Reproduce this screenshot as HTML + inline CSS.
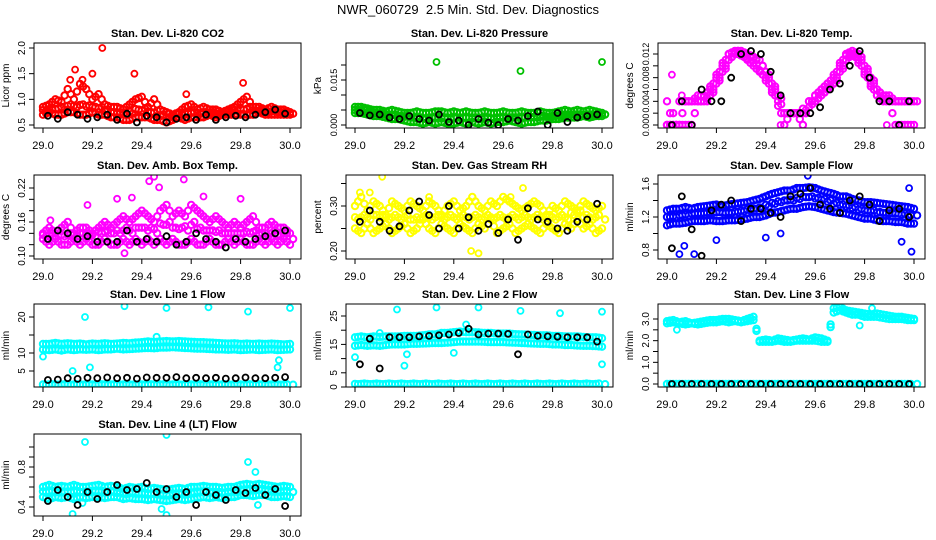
<!DOCTYPE html>
<html><head><meta charset="utf-8">
<style>
html,body{margin:0;padding:0;background:#fff;}
svg{display:block;font-family:"Liberation Sans",sans-serif;}
</style></head>
<body>
<svg id="chart" width="936" height="540" viewBox="0 0 936 540" xmlns="http://www.w3.org/2000/svg">
<rect width="936" height="540" fill="#fff"/>
<text x="468" y="14" text-anchor="middle" font-size="13" style="white-space:pre">NWR_060729  2.5 Min. Std. Dev. Diagnostics</text>
</svg>
<script>
// ---- shared times ----
const times = [29.000,29.025,29.050,29.075,29.100,29.125,29.150,29.175,29.200,29.225,29.250,29.275,29.300,29.325,29.350,29.375,29.400,29.425,29.450,29.475,29.500,29.525,29.550,29.575,29.600,29.625,29.650,29.675,29.700,29.725,29.750,29.775,29.800,29.825,29.850,29.875,29.900,29.925,29.950,29.975,30.000];
const blackTimes = [29.02,29.06,29.10,29.14,29.18,29.22,29.26,29.30,29.34,29.38,29.42,29.46,29.50,29.54,29.58,29.62,29.66,29.70,29.74,29.78,29.82,29.86,29.90,29.94,29.98];
const xTicks = [29.0,29.2,29.4,29.6,29.8,30.0];
const xTickLabels = ["29.0","29.2","29.4","29.6","29.8","30.0"];

// ---- CO2 ----
const co2Upper = [0.85,0.9,1.0,0.95,1.2,1.0,1.3,1.2,1.0,1.1,0.9,0.85,0.85,0.8,0.9,1.0,1.05,0.85,1.0,0.8,0.75,0.7,0.75,0.85,0.9,0.8,0.85,0.8,0.8,0.75,0.8,0.85,0.95,1.05,0.85,0.85,0.8,0.85,0.8,0.8,0.75];
const co2Lower = [0.7,0.75,0.7,0.7,0.75,0.75,0.7,0.7,0.75,0.7,0.7,0.65,0.65,0.6,0.6,0.65,0.65,0.65,0.6,0.6,0.55,0.6,0.65,0.6,0.65,0.65,0.65,0.7,0.65,0.7,0.7,0.7,0.7,0.7,0.7,0.75,0.7,0.7,0.7,0.7,0.7];
const co2Mid = [0.78,0.8,0.82,0.8,0.9,0.85,0.9,0.88,0.85,0.85,0.8,0.75,0.75,0.7,0.72,0.8,0.82,0.75,0.78,0.7,0.65,0.65,0.7,0.72,0.75,0.72,0.75,0.75,0.72,0.72,0.75,0.78,0.8,0.85,0.78,0.8,0.75,0.78,0.75,0.75,0.72];
const co2OutT = [29.24,29.13,29.2,29.37,29.81,29.58,29.11,29.16];
const co2OutV = [2.0,1.58,1.5,1.5,1.32,1.1,1.38,1.38];
const co2Black = [0.68,0.62,0.75,0.7,0.62,0.65,0.7,0.6,0.72,0.55,0.68,0.65,0.55,0.62,0.65,0.6,0.7,0.6,0.65,0.68,0.65,0.7,0.75,0.8,0.72];
const co2Ticks = [0.5,1.0,1.5,2.0];
const co2TickLabels = ["0.5","1.0","1.5","2.0"];

// ---- Pressure ----
const presUpper = [0.006,0.006,0.0055,0.005,0.005,0.0045,0.005,0.0045,0.004,0.004,0.0045,0.004,0.004,0.0045,0.0045,0.004,0.0045,0.004,0.0045,0.004,0.004,0.0045,0.004,0.004,0.0045,0.004,0.004,0.0045,0.004,0.004,0.0045,0.004,0.004,0.0045,0.005,0.0045,0.005,0.0045,0.005,0.0045,0.004];
const presLower = [0.004,0.004,0.0035,0.003,0.003,0.0025,0.002,0.002,0.0015,0.001,0.001,0.0005,0.001,0.0005,0.001,0.0005,0.0005,0.001,0.0005,0.001,0.0005,0.001,0.0005,0.001,0.001,0.0015,0.001,0.0005,0.001,0.001,0.0015,0.0015,0.002,0.002,0.0025,0.0025,0.0025,0.003,0.0025,0.003,0.003];
const presMid = [0.005,0.005,0.0045,0.004,0.004,0.0035,0.0035,0.003,0.003,0.0025,0.0025,0.002,0.0025,0.0025,0.0025,0.002,0.0025,0.0025,0.0025,0.0025,0.002,0.0025,0.002,0.0025,0.0025,0.0025,0.0025,0.0025,0.0025,0.0025,0.003,0.0025,0.003,0.003,0.0035,0.0035,0.0035,0.0035,0.0035,0.0035,0.0035];
const presOutT = [29.33,29.67,30.0];
const presOutV = [0.021,0.018,0.021];
const presBlack = [0.004,0.0032,0.0035,0.0025,0.002,0.003,0.002,0.0015,0.0035,0.001,0.0015,0,0.002,0.0008,0,0.002,0.0015,0.003,0.0045,0.0,0.004,0.001,0.0025,0.003,0.0035];
const presTicks = [0,0.005,0.010,0.015,0.020];
const presTickLabels = ["0.000","","","0.015",""];

// ---- Li-820 Temp ----
const tempUpper = [0.000,0.0,0.0,0.004,0.004,0.005,0.005,0.006,0.008,0.010,0.012,0.0125,0.0125,0.012,0.0115,0.011,0.009,0.007,0.005,0.002,0.002,0.002,0.002,0.003,0.005,0.006,0.007,0.008,0.010,0.012,0.0125,0.012,0.010,0.008,0.006,0.005,0.005,0.004,0.004,0.004,0.004];
const tempLower = [0.004,0.0,0.0,0.0,0.0,0.004,0.004,0.005,0.007,0.009,0.011,0.012,0.012,0.011,0.010,0.009,0.008,0.006,0.004,0.0,0.002,0.002,0.0,0.004,0.004,0.005,0.006,0.007,0.009,0.011,0.012,0.011,0.009,0.007,0.005,0.004,0.004,0.0,0.0,0.0,0.0];
const tempMid = [0.0,0.0,0.004,0.004,0.004,0.004,0.004,0.0055,0.0075,0.0095,0.0115,0.0125,0.012,0.0115,0.011,0.010,0.0085,0.0065,0.0045,0.002,0.002,0.002,0.002,0.0035,0.0045,0.0055,0.0065,0.0075,0.0095,0.0115,0.012,0.0115,0.0095,0.0075,0.0055,0.0045,0.004,0.004,0.004,0.004,0.004];
const tempOutT = [29.02,29.06,29.46,29.89];
const tempOutV = [0.0085,0.005,0.0,0.0];
const tempBlack = [0,0.004,0,0.006,0.004,0.004,0.008,0.012,0.0125,0.012,0.009,0.005,0.002,0.002,0.002,0.003,0.006,0.007,0.010,0.0125,0.008,0.004,0.004,0,0.004];
const tempTicks = [0,0.002,0.004,0.006,0.008,0.010,0.012];
const tempTickLabels = ["0.000","","0.004","","0.008","","0.012"];

// ---- Amb Box Temp ----
const ambUpper = [0.14,0.15,0.14,0.15,0.16,0.14,0.15,0.15,0.14,0.15,0.16,0.15,0.16,0.17,0.16,0.17,0.18,0.17,0.16,0.18,0.19,0.17,0.18,0.17,0.19,0.18,0.17,0.16,0.17,0.16,0.15,0.16,0.15,0.16,0.17,0.15,0.15,0.16,0.15,0.15,0.14];
const ambLower = [0.13,0.12,0.13,0.12,0.12,0.13,0.12,0.13,0.12,0.12,0.13,0.12,0.12,0.13,0.12,0.13,0.12,0.13,0.12,0.13,0.12,0.13,0.12,0.12,0.13,0.12,0.12,0.13,0.12,0.12,0.13,0.12,0.13,0.12,0.12,0.13,0.12,0.13,0.12,0.13,0.12];
const ambMid = [0.135,0.14,0.135,0.135,0.14,0.135,0.14,0.14,0.135,0.14,0.145,0.14,0.14,0.15,0.14,0.15,0.15,0.15,0.14,0.155,0.16,0.15,0.15,0.145,0.16,0.15,0.145,0.145,0.145,0.14,0.14,0.14,0.14,0.14,0.145,0.14,0.135,0.145,0.135,0.14,0.13];
const ambOutT = [29.45,29.43,29.57,29.47,29.65,29.18,29.8,29.3,29.36,29.03,29.33];
const ambOutV = [0.24,0.232,0.235,0.221,0.205,0.19,0.201,0.201,0.203,0.163,0.105];
const ambBlack = [0.13,0.145,0.14,0.13,0.135,0.125,0.125,0.125,0.145,0.125,0.13,0.125,0.135,0.12,0.125,0.14,0.13,0.125,0.115,0.13,0.125,0.13,0.135,0.14,0.145];
const ambTicks = [0.10,0.12,0.14,0.16,0.18,0.20,0.22];
const ambTickLabels = ["0.10","","","0.16","","","0.22"];

// ---- Gas Stream RH ----
const rhUpper = [0.30,0.32,0.29,0.31,0.30,0.28,0.31,0.30,0.29,0.31,0.30,0.29,0.31,0.30,0.28,0.30,0.31,0.29,0.30,0.32,0.30,0.29,0.31,0.30,0.32,0.31,0.30,0.29,0.30,0.31,0.30,0.28,0.30,0.29,0.31,0.30,0.29,0.31,0.30,0.29,0.30];
const rhLower = [0.25,0.24,0.26,0.24,0.25,0.26,0.24,0.25,0.26,0.24,0.25,0.27,0.25,0.24,0.26,0.25,0.24,0.26,0.25,0.24,0.26,0.25,0.27,0.24,0.25,0.26,0.24,0.25,0.26,0.25,0.24,0.26,0.25,0.24,0.26,0.25,0.27,0.25,0.26,0.24,0.25];
const rhMid = [0.27,0.28,0.27,0.28,0.28,0.27,0.28,0.27,0.28,0.27,0.27,0.28,0.27,0.28,0.27,0.28,0.27,0.28,0.27,0.28,0.27,0.28,0.27,0.28,0.27,0.28,0.27,0.28,0.27,0.28,0.27,0.28,0.27,0.28,0.27,0.28,0.29,0.28,0.27,0.28,0.27];
const rhOutT = [29.11,29.47,29.5,29.68,29.02,29.06,29.3,29.63];
const rhOutV = [0.365,0.20,0.195,0.34,0.33,0.33,0.32,0.32];
const rhBlack = [0.265,0.29,0.265,0.245,0.255,0.29,0.31,0.28,0.25,0.3,0.25,0.275,0.245,0.26,0.24,0.27,0.225,0.295,0.27,0.265,0.25,0.245,0.265,0.27,0.305];
const rhTicks = [0.20,0.25,0.30,0.35];
const rhTickLabels = ["0.20","","0.30",""];

// ---- Sample Flow ----
const sfUpper = [1.28,1.3,1.3,1.32,1.3,1.32,1.33,1.34,1.35,1.33,1.35,1.36,1.37,1.38,1.4,1.42,1.45,1.48,1.5,1.52,1.52,1.55,1.55,1.56,1.55,1.52,1.5,1.48,1.45,1.45,1.42,1.4,1.38,1.38,1.37,1.36,1.35,1.34,1.33,1.32,1.3];
const sfLower = [1.1,1.12,1.12,1.13,1.15,1.15,1.15,1.16,1.15,1.15,1.16,1.16,1.17,1.18,1.2,1.2,1.22,1.25,1.26,1.28,1.3,1.3,1.32,1.33,1.32,1.3,1.28,1.26,1.25,1.24,1.22,1.2,1.18,1.18,1.16,1.15,1.15,1.14,1.14,1.12,1.12];
const sfMid = [1.2,1.2,1.22,1.22,1.24,1.24,1.25,1.25,1.26,1.25,1.25,1.26,1.27,1.28,1.3,1.3,1.33,1.36,1.38,1.4,1.4,1.42,1.44,1.45,1.43,1.42,1.4,1.37,1.35,1.34,1.32,1.3,1.28,1.28,1.26,1.25,1.25,1.24,1.24,1.22,1.22];
const sfOutT = [29.57,29.05,29.07,29.4,29.46,29.95,29.99,29.98,29.11,29.2];
const sfOutV = [1.7,0.75,0.85,0.95,1.0,0.9,0.78,1.55,0.75,0.92];
const sfBlack = [0.82,1.45,1.05,0.73,1.28,1.35,1.4,1.15,1.3,1.3,1.25,1.2,1.45,1.48,1.55,1.35,1.3,1.25,1.4,1.45,1.35,1.15,1.28,1.3,1.2];
const sfTicks = [0.8,1.0,1.2,1.4,1.6];
const sfTickLabels = ["0.8","","1.2","","1.6"];

// ---- Line 1 ----
const l1Upper = [12.5,12.5,12.8,12.5,12.7,12.5,12.6,12.4,12.6,12.5,12.7,12.5,12.6,12.8,12.7,12.9,13,13.2,13,13.2,13.3,13.2,13.3,13.2,13.1,13,13,12.9,12.8,12.7,12.6,12.7,12.5,12.6,12.5,12.6,12.5,12.6,12.5,12.4,12.5];
const l1Lower = [11,10.8,11,10.7,11,10.8,11,10.9,11,10.8,11,11,11.2,11,11.1,11.2,11.3,11.4,11.3,11.5,11.5,11.6,11.5,11.4,11.3,11.2,11.2,11.1,11,11,10.9,11,10.8,10.9,11,10.8,10.9,11,10.8,10.9,11];
const l1Mid = [1.2,1.3,1.2,1.3,1.2,1.3,1.2,1.3,1.2,1.3,1.2,1.3,1.2,1.3,1.2,1.3,1.2,1.3,1.2,1.3,1.2,1.3,1.2,1.3,1.2,1.3,1.2,1.3,1.2,1.3,1.2,1.3,1.2,1.3,1.2,1.3,1.2,1.3,1.2,1.3,1.2];
const l1OutT = [29.17,29.33,29.5,29.67,29.83,30.0,29.12,29.19,29.95,29.955,29.0,29.46];
const l1OutV = [20,23,22.5,22.7,21.5,22.5,5,6,6,8,9,14.5];
const l1Black = [2.5,2.6,3.0,2.8,3.1,3.0,3.2,3.0,3.1,2.9,3.2,3.1,3.1,3.3,3.0,3.1,3.0,3.1,2.9,3.0,3.2,3.0,3.0,3.1,3.3];
const l1Ticks = [5,10,15,20];
const l1TickLabels = ["5","10","","20"];

// ---- Line 2 ----
const l2Upper = [17.5,17.8,17.5,17.8,17.6,17.8,17.8,17.8,18,18,18,18.2,18.5,18.5,19,19,19.3,19.5,19.3,19.3,19.2,19,19,18.8,18.8,18.8,18.6,18.5,18.4,18.3,18.2,18.2,18,18,17.8,17.8,17.8,17.6,17.5,17.5,17.2];
const l2Lower = [14.5,14.8,14.5,14.7,14.5,14.8,15,15,15,15.2,15.2,15.3,15.4,15.5,15.5,15.6,15.8,16,16,16,16,15.9,15.8,15.8,15.8,15.7,15.6,15.5,15.4,15.3,15.2,15.2,15,15,14.8,14.8,14.6,14.5,14.5,14.4,14.2];
const l2Mid = [1,1.2,1,1.2,1,1.2,1,1.2,1,1.2,1,1.2,1,1.2,1,1.2,1,1.2,1,1.2,1,1.2,1,1.2,1,1.2,1,1.2,1,1.2,1,1.2,1,1.2,1,1.2,1,1.2,1,1.2,1];
const l2OutT = [29.17,29.33,29.5,29.67,29.83,30.0,29.0,29.2,29.21,29.4,29.45,30.0,29.1];
const l2OutV = [27.3,28,28,26.8,26,26.5,10.5,7.5,11.5,12,22,8,19];
const l2Black = [8,17,6.5,17.5,17.5,17.5,17.8,18,18.2,18.5,19,20.5,18.5,18.8,18.8,18.7,11.5,18.5,18,17.8,17.7,17.5,17.5,17.5,16];
const l2Ticks = [0,5,10,15,20,25];
const l2TickLabels = ["0","5","","15","","25"];

// ---- Line 3 ----
const l3Upper = [2.9,2.95,2.85,2.9,2.8,2.85,2.9,2.95,2.95,3.0,3.0,2.95,2.9,3.0,3.1,2.0,2.05,2.0,2.1,2.05,2.0,2.05,2.1,2.05,2.15,2.1,2.0,3.5,3.55,3.4,3.35,3.3,3.25,3.2,3.25,3.2,3.15,3.1,3.1,3.05,3.0];
const l3Lower = [2.8,2.85,2.8,2.75,2.8,2.75,2.8,2.85,2.85,2.9,2.85,2.9,2.85,2.9,2.95,1.95,1.95,1.95,2.0,1.95,1.95,2.0,2.0,2.0,2.0,1.95,1.95,3.3,3.4,3.3,3.2,3.2,3.1,3.1,3.1,3.05,3.0,3.0,3.0,2.95,2.95];
const l3Mid = [0,0,0,0,0,0,0,0,0,0,0,0,0,0,0,0,0,0,0,0,0,0,0,0,0,0,0,0,0,0,0,0,0,0,0,0,0,0,0,0,0];
const l3OutT = [29.04,29.78,29.83];
const l3OutV = [2.5,2.7,3.5];
const l3Black = [0,0,0,0,0,0,0,0,0,0,0,0,0,0,0,0,0,0,0,0,0,0,0,0,0];
const l3Ticks = [0,0.5,1.0,1.5,2.0,2.5,3.0];
const l3TickLabels = ["0.0","","1.0","","2.0","","3.0"];

// ---- Line 4 ----
const l4Upper = [0.6,0.62,0.6,0.61,0.6,0.62,0.6,0.6,0.61,0.62,0.6,0.61,0.6,0.58,0.6,0.59,0.6,0.58,0.59,0.58,0.57,0.58,0.59,0.58,0.6,0.6,0.61,0.6,0.6,0.59,0.6,0.6,0.62,0.63,0.62,0.63,0.62,0.61,0.6,0.61,0.6];
const l4Lower = [0.5,0.48,0.5,0.49,0.5,0.48,0.5,0.49,0.5,0.5,0.49,0.5,0.5,0.48,0.49,0.48,0.48,0.47,0.48,0.47,0.46,0.47,0.48,0.47,0.48,0.49,0.5,0.49,0.5,0.49,0.5,0.5,0.52,0.52,0.51,0.52,0.52,0.5,0.5,0.51,0.5];
const l4Mid = [0.55,0.56,0.55,0.55,0.55,0.56,0.55,0.55,0.56,0.56,0.55,0.56,0.55,0.53,0.55,0.54,0.54,0.53,0.54,0.53,0.52,0.53,0.54,0.53,0.54,0.55,0.56,0.55,0.55,0.54,0.55,0.55,0.57,0.58,0.57,0.58,0.57,0.56,0.55,0.56,0.55];
const l4OutT = [29.17,29.5,29.83,29.86,29.12,29.5,29.87,29.16,29.48];
const l4OutV = [1.05,1.12,0.85,0.75,0.33,0.32,0.42,0.44,0.38];
const l4Black = [0.46,0.57,0.5,0.42,0.55,0.48,0.55,0.62,0.57,0.58,0.64,0.55,0.58,0.5,0.55,0.42,0.55,0.52,0.47,0.57,0.54,0.59,0.52,0.58,0.41];
const l4Ticks = [0.4,0.5,0.6,0.7,0.8,0.9,1.0];
const l4TickLabels = ["0.4","","","","0.8","",""];

// ---- layout (not data) ----
const colOff = [0,312,624];
const rowTop = [43,175,304,434];
const rowBot = [128,259,387,516];

const panels = [
 {key:'co2',title:'Stan. Dev. Li-820 CO2',ylab:'Licor ppm',col:0,row:0,color:'#ff0000',cal:[0.5,125,2.0,48],A:co2Upper,B:co2Lower,C:co2Mid,oT:co2OutT,oV:co2OutV,K:co2Black,ticks:co2Ticks,labels:co2TickLabels},
 {key:'pressure',title:'Stan. Dev. Li-820 Pressure',ylab:'kPa',col:1,row:0,color:'#00c000',cal:[0,125,0.015,80],A:presUpper,B:presLower,C:presMid,oT:presOutT,oV:presOutV,K:presBlack,ticks:presTicks,labels:presTickLabels},
 {key:'li820-temp',title:'Stan. Dev. Li-820 Temp.',ylab:'degrees C',col:2,row:0,color:'#ff00ff',cal:[0,125,0.012,54],A:tempUpper,B:tempLower,C:tempMid,oT:tempOutT,oV:tempOutV,K:tempBlack,ticks:tempTicks,labels:tempTickLabels},
 {key:'amb-box-temp',title:'Stan. Dev. Amb. Box Temp.',ylab:'degrees C',col:0,row:1,color:'#ff00ff',cal:[0.10,256,0.22,188],A:ambUpper,B:ambLower,C:ambMid,oT:ambOutT,oV:ambOutV,K:ambBlack,ticks:ambTicks,labels:ambTickLabels},
 {key:'gas-rh',title:'Stan. Dev. Gas Stream RH',ylab:'percent',col:1,row:1,color:'#ffff00',cal:[0.20,251,0.30,206],A:rhUpper,B:rhLower,C:rhMid,oT:rhOutT,oV:rhOutV,K:rhBlack,ticks:rhTicks,labels:rhTickLabels},
 {key:'sample-flow',title:'Stan. Dev. Sample Flow',ylab:'ml/min',col:2,row:1,color:'#0000ff',cal:[0.8,250,1.6,184],A:sfUpper,B:sfLower,C:sfMid,oT:sfOutT,oV:sfOutV,K:sfBlack,ticks:sfTicks,labels:sfTickLabels},
 {key:'line1-flow',title:'Stan. Dev. Line 1 Flow',ylab:'ml/min',col:0,row:2,color:'#00ffff',cal:[5,371,20,317],A:l1Upper,B:l1Lower,C:l1Mid,oT:l1OutT,oV:l1OutV,K:l1Black,ticks:l1Ticks,labels:l1TickLabels},
 {key:'line2-flow',title:'Stan. Dev. Line 2 Flow',ylab:'ml/min',col:1,row:2,color:'#00ffff',cal:[0,387,25,316],A:l2Upper,B:l2Lower,C:l2Mid,oT:l2OutT,oV:l2OutV,K:l2Black,ticks:l2Ticks,labels:l2TickLabels},
 {key:'line3-flow',title:'Stan. Dev. Line 3 Flow',ylab:'ml/min',col:2,row:2,color:'#00ffff',cal:[0,384,3.0,319],A:l3Upper,B:l3Lower,C:l3Mid,oT:l3OutT,oV:l3OutV,K:l3Black,ticks:l3Ticks,labels:l3TickLabels},
 {key:'line4-flow',title:'Stan. Dev. Line 4 (LT) Flow',ylab:'ml/min',col:0,row:3,color:'#00ffff',cal:[0.4,507,0.8,467],A:l4Upper,B:l4Lower,C:l4Mid,oT:l4OutT,oV:l4OutV,K:l4Black,ticks:l4Ticks,labels:l4TickLabels}
];

const NS='http://www.w3.org/2000/svg';
const svg=document.getElementById('chart');
function mk(tag,attrs,parent){const e=document.createElementNS(NS,tag);for(const k in attrs)e.setAttribute(k,attrs[k]);parent.appendChild(e);return e;}

panels.forEach(p=>{
  const off=colOff[p.col], top=rowTop[p.row], bot=rowBot[p.row];
  const left=34+off, right=301+off;
  const xs=t=>43+off+(t-29)*(247);
  const ys=v=>p.cal[1]+(v-p.cal[0])*(p.cal[3]-p.cal[1])/(p.cal[2]-p.cal[0]);
  const g=mk('g',{},svg);
  
  
  const clipId='clip-'+p.key;
  const cp=mk('clipPath',{id:clipId},g);
  mk('rect',{x:left,y:top,width:right-left,height:bot-top},cp);
  const pts=mk('g',{'clip-path':'url(#'+clipId+')'},g);
  
  
  function dot(t,v,col,w,r){
    const c=mk('circle',{cx:xs(t).toFixed(1),cy:ys(v).toFixed(1),r:r,fill:'none',stroke:col,'stroke-width':w},pts);
    
    
  }
  [p.A,p.C,p.B].forEach((arr,si)=>{
    arr.forEach((v,i)=>{ dot(times[i]+(si===1?0.0125:0),v,p.color,2,3.2); if(i<arr.length-1) dot(times[i]+(si===1?0:0.0125),(v+arr[i+1])/2,p.color,2,3.2); });
  });
  p.oT.forEach((t,i)=>dot(t,p.oV[i],p.color,1.8,3));
  p.K.forEach((v,i)=>dot(blackTimes[i],v,'#000',1.8,3));
  const box=mk('rect',{x:left,y:top,width:right-left,height:bot-top,fill:'none',stroke:'#000','stroke-width':1},g);
  
  
  const ti=mk('text',{x:(left+right)/2,y:top-6,'text-anchor':'middle','font-size':11,'font-weight':'bold'},g);
  ti.textContent=p.title;
  
  
  const xa=mk('g',{},g);
  
  
  mk('line',{x1:xs(29),x2:xs(30),y1:bot,y2:bot,stroke:'#000'},xa);
  xTicks.forEach((t,i)=>{
    mk('line',{x1:xs(t),x2:xs(t),y1:bot,y2:bot+5,stroke:'#000'},xa);
    const tx=mk('text',{x:xs(t),y:bot+21,'text-anchor':'middle','font-size':11},xa);
    tx.textContent=xTickLabels[i];
    
    
  });
  const ya=mk('g',{},g);
  
  
  const y0=ys(p.ticks[0]), y1=ys(p.ticks[p.ticks.length-1]);
  mk('line',{x1:left,x2:left,y1:y0,y2:y1,stroke:'#000'},ya);
  p.ticks.forEach((v,i)=>{
    const y=ys(v);
    mk('line',{x1:left-5,x2:left,y1:y,y2:y,stroke:'#000'},ya);
    if(p.labels[i]){
      const fs = p.labels[i].length>=5 ? 9 : 10;
      const tx=mk('text',{x:0,y:0,'text-anchor':'middle','font-size':fs,transform:'translate('+(left-9)+','+y+') rotate(-90)'},ya);
      tx.textContent=p.labels[i];
      
      
    }
  });
  const yl=mk('text',{x:0,y:0,'text-anchor':'middle','font-size':10,transform:'translate('+(left-25)+','+((top+bot)/2)+') rotate(-90)'},g);
  yl.textContent=p.ylab;
  
  
});
</script>
</body></html>
